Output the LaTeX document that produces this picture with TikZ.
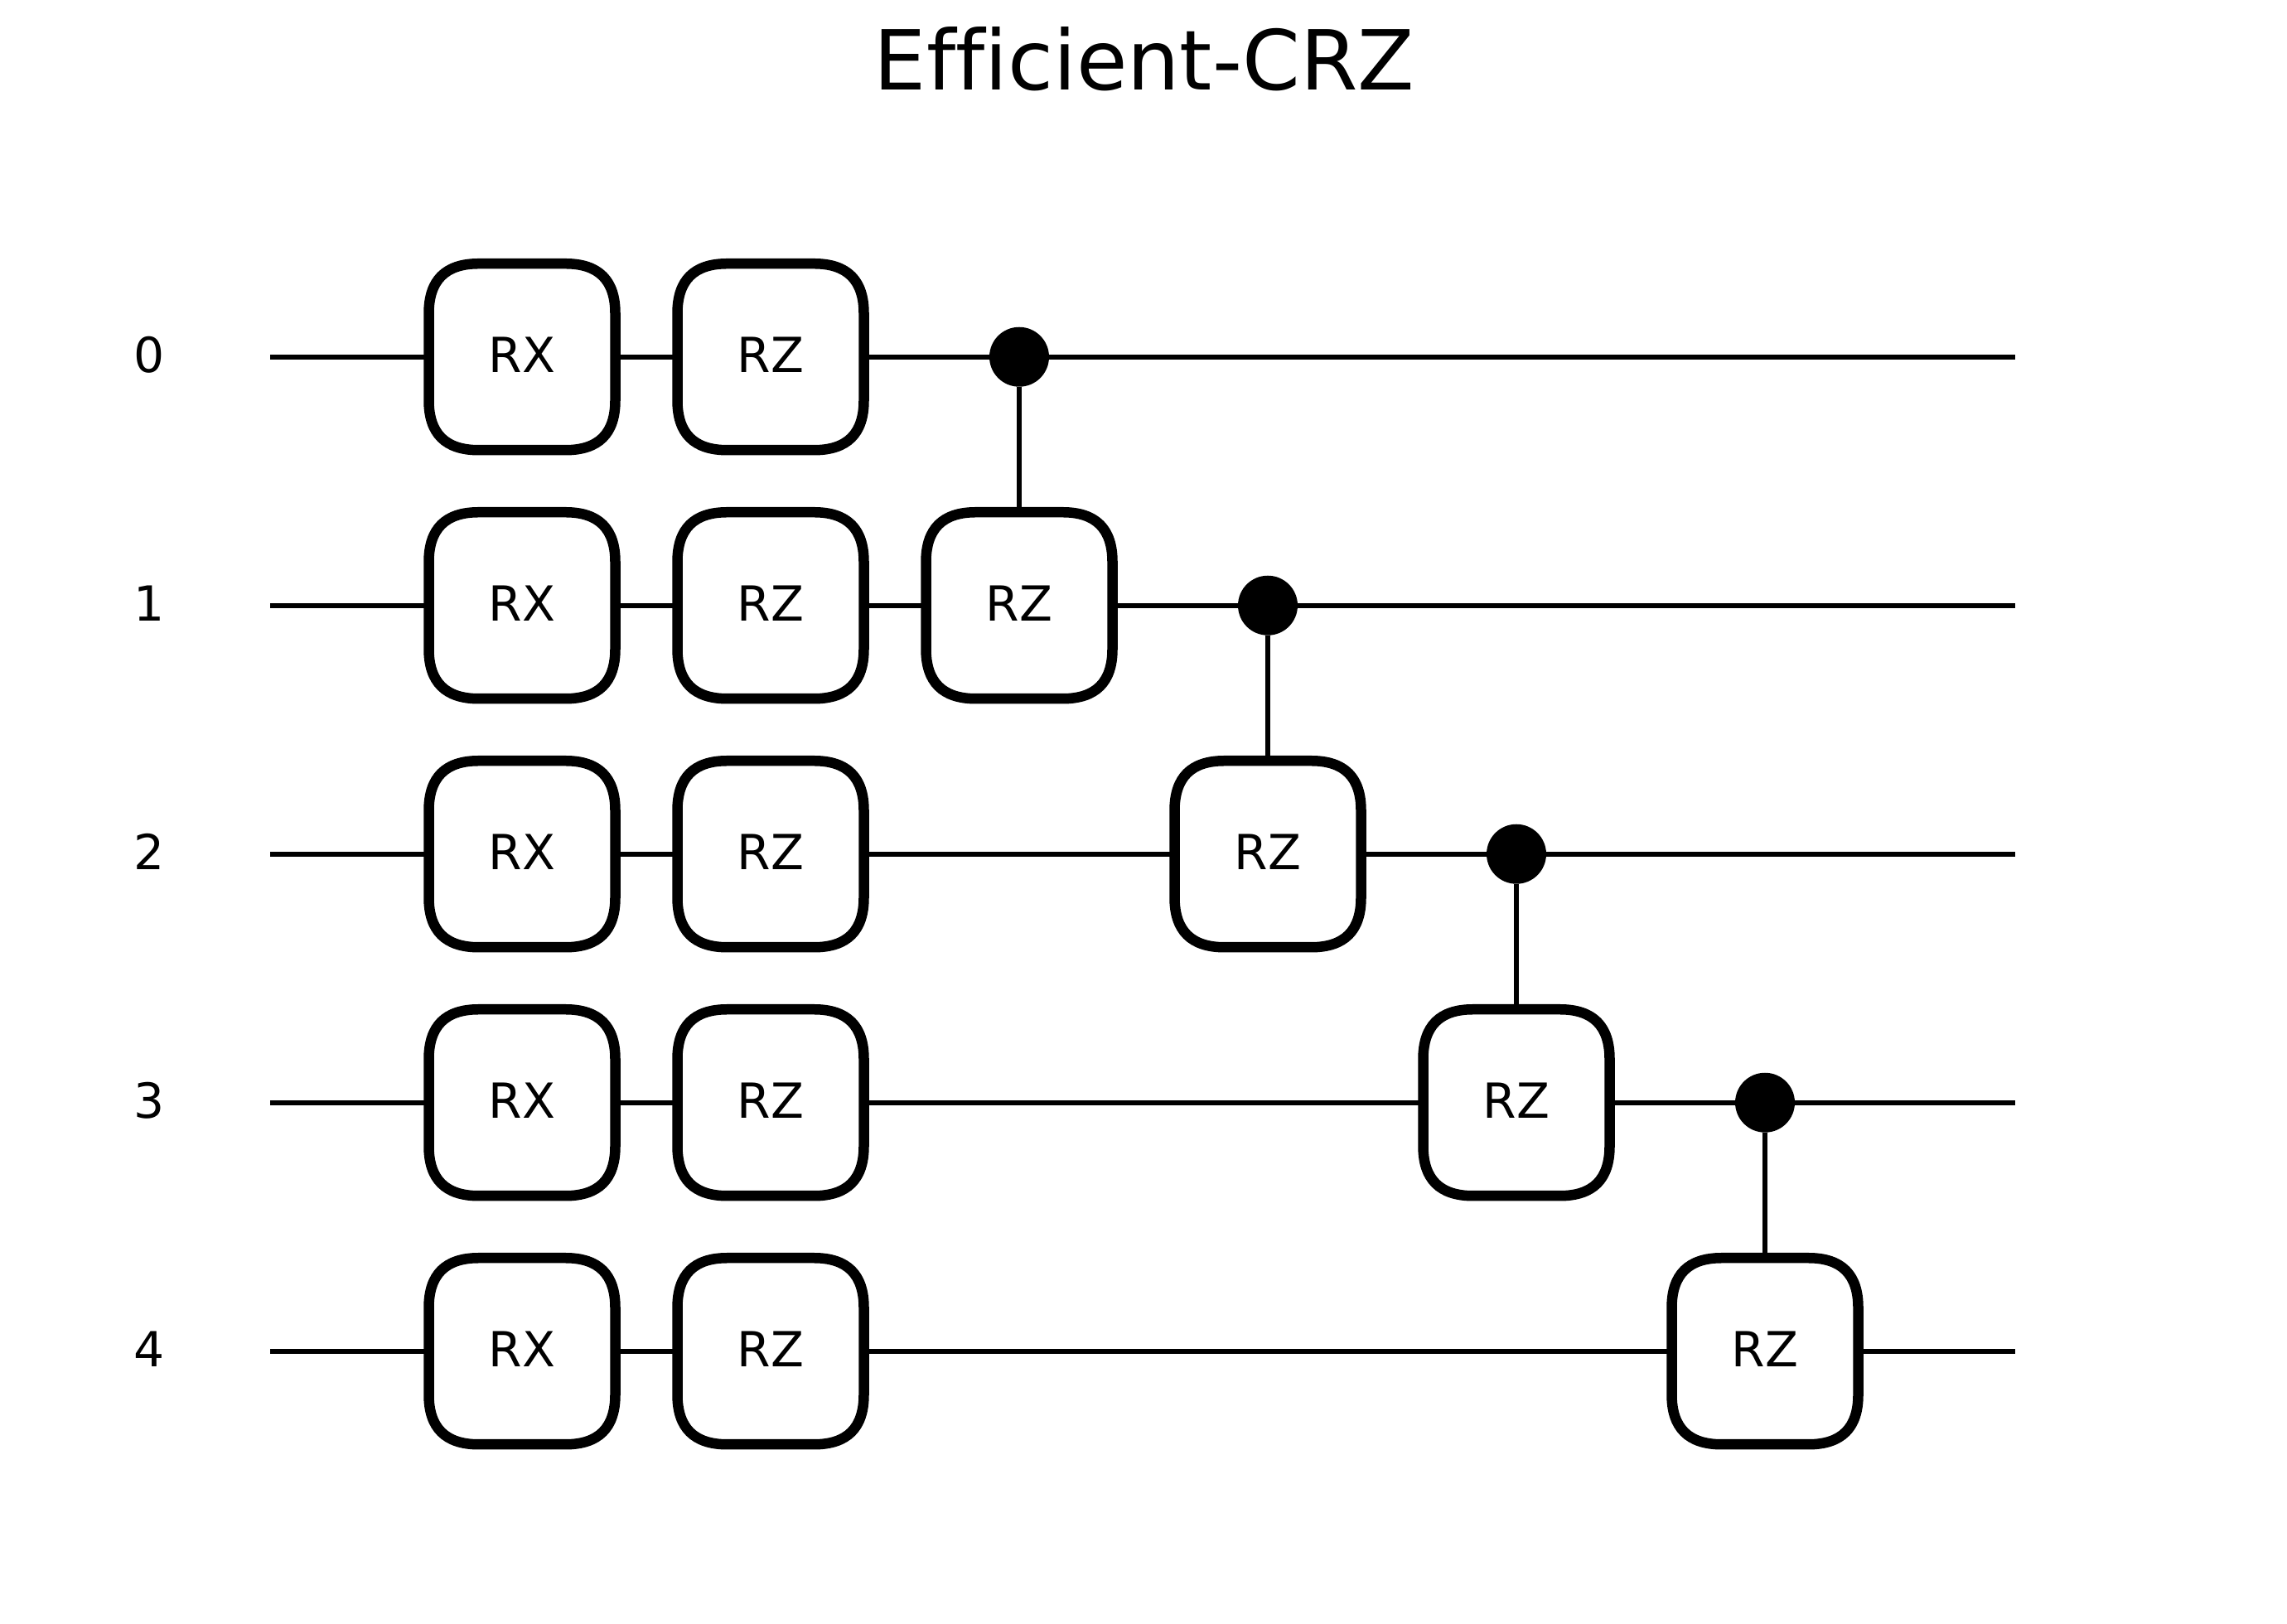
\documentclass[tikz,border=0pt]{standalone}
\usepackage{fontspec}
\setmainfont[RawFeature=-liga]{DejaVu Sans}
\usepackage{xcolor}
\usetikzlibrary{positioning}

\newcommand{\gateoutline}[1]{%
    \draw[line width=3bp, shift={(#1.center)}]
        (-0.375,0.175) .. controls (-0.375,0.3083) and (-0.3083,0.375) .. (-0.175,0.375)
        -- (0.175,0.375) .. controls (0.3083,0.375) and (0.375,0.3083) .. (0.375,0.175)
        -- (0.375,-0.175) .. controls (0.375,-0.3083) and (0.3083,-0.375) .. (0.175,-0.375)
        -- (-0.175,-0.375) .. controls (-0.3083,-0.375) and (-0.375,-0.3083) .. (-0.375,-0.175)
        -- cycle;}

\begin{document}
\begin{tikzpicture}[
    x=1in, y=1in, on grid,
    gate/.style={minimum width=0.75in, minimum height=0.75in, inner sep=0pt, outer sep=0pt,
                 text depth=1.2bp, font=\fontsize{14bp}{17bp}\selectfont,
                 append after command={\pgfextra{\gateoutline{\tikzlastnode}}}},
    ctrl/.style={circle, fill=black, minimum size=0.24in, inner sep=0pt, outer sep=0pt},
    wire/.style={draw=black, line width=1.5bp},
    qubit/.style={text depth=1.2bp, font=\fontsize{14bp}{17bp}\selectfont}
]
    \useasboundingbox (0,0) rectangle (9.2,6.5333);

    \node[font=\fontsize{24bp}{29bp}\selectfont, anchor=base] (title) at (4.603,6.17) {Efficient-CRZ};

    % wire ends
    \coordinate (in0) at (1.087,5.0975);
    \coordinate[below=1in of in0] (in1);
    \coordinate[below=1in of in1] (in2);
    \coordinate[below=1in of in2] (in3);
    \coordinate[below=1in of in3] (in4);
    \coordinate (out0) at (8.107,5.0975);
    \coordinate[below=1in of out0] (out1);
    \coordinate[below=1in of out1] (out2);
    \coordinate[below=1in of out2] (out3);
    \coordinate[below=1in of out3] (out4);

    \node[qubit] (q0) at (0.6,5.0975) {0};
    \node[qubit, below=1in of q0] (q1) {1};
    \node[qubit, below=1in of q1] (q2) {2};
    \node[qubit, below=1in of q2] (q3) {3};
    \node[qubit, below=1in of q3] (q4) {4};

    \node[gate] (rx0) at (2.1,5.0975) {RX};
    \node[gate, below=1in of rx0] (rx1) {RX};
    \node[gate, below=1in of rx1] (rx2) {RX};
    \node[gate, below=1in of rx2] (rx3) {RX};
    \node[gate, below=1in of rx3] (rx4) {RX};

    \node[gate, right=1in of rx0] (rz0) {RZ};
    \node[gate, right=1in of rx1] (rz1) {RZ};
    \node[gate, right=1in of rx2] (rz2) {RZ};
    \node[gate, right=1in of rx3] (rz3) {RZ};
    \node[gate, right=1in of rx4] (rz4) {RZ};

    \node[ctrl, right=1in of rz0] (ctrl0) {};
    \node[gate, below=1in of ctrl0] (crz1) {RZ};
    \node[ctrl, right=1in of crz1] (ctrl1) {};
    \node[gate, below=1in of ctrl1] (crz2) {RZ};
    \node[ctrl, right=1in of crz2] (ctrl2) {};
    \node[gate, below=1in of ctrl2] (crz3) {RZ};
    \node[ctrl, right=1in of crz3] (ctrl3) {};
    \node[gate, below=1in of ctrl3] (crz4) {RZ};

    \draw[wire] (in0) -- (rx0);
    \draw[wire] (rx0) -- (rz0);
    \draw[wire] (rz0) -- (ctrl0);
    \draw[wire] (ctrl0) -- (out0);

    \draw[wire] (in1) -- (rx1);
    \draw[wire] (rx1) -- (rz1);
    \draw[wire] (rz1) -- (crz1);
    \draw[wire] (crz1) -- (ctrl1);
    \draw[wire] (ctrl1) -- (out1);

    \draw[wire] (in2) -- (rx2);
    \draw[wire] (rx2) -- (rz2);
    \draw[wire] (rz2) -- (crz2);
    \draw[wire] (crz2) -- (ctrl2);
    \draw[wire] (ctrl2) -- (out2);

    \draw[wire] (in3) -- (rx3);
    \draw[wire] (rx3) -- (rz3);
    \draw[wire] (rz3) -- (crz3);
    \draw[wire] (crz3) -- (ctrl3);
    \draw[wire] (ctrl3) -- (out3);

    \draw[wire] (in4) -- (rx4);
    \draw[wire] (rx4) -- (rz4);
    \draw[wire] (rz4) -- (crz4);
    \draw[wire] (crz4) -- (out4);

    % controls
    \draw[wire] (ctrl0) -- (crz1);
    \draw[wire] (ctrl1) -- (crz2);
    \draw[wire] (ctrl2) -- (crz3);
    \draw[wire] (ctrl3) -- (crz4);
\end{tikzpicture}
\end{document}
